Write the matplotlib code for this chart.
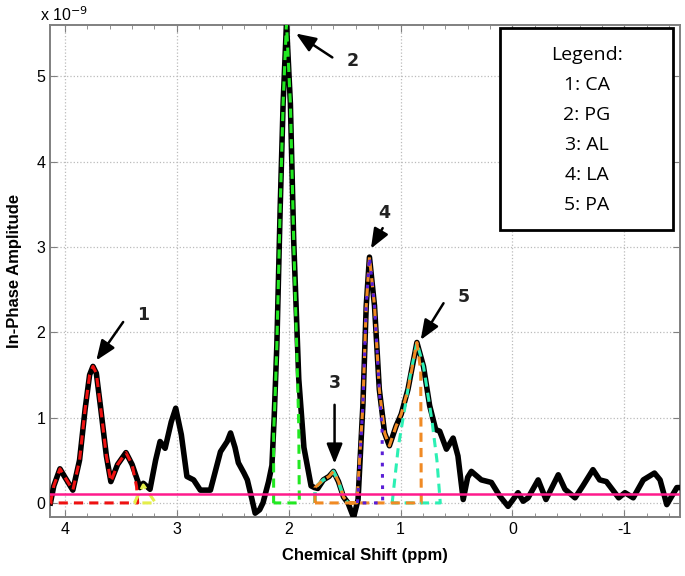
import matplotlib
matplotlib.use("Agg")
import matplotlib.pyplot as plt
from matplotlib.ticker import MultipleLocator
from matplotlib.patches import Rectangle

plt.rcParams["axes.unicode_minus"] = False

# measured spectrum (ppm, amplitude in units of 1e-9)
ppm = [4.13, 4.10, 4.045, 4.00, 3.93, 3.87, 3.82, 3.78, 3.75, 3.72, 3.68, 3.63, 3.59,
       3.53, 3.455, 3.40, 3.33, 3.30, 3.24, 3.19, 3.15, 3.105, 3.05, 3.01, 2.96, 2.91,
       2.85, 2.79, 2.70, 2.65, 2.61, 2.55, 2.52, 2.48, 2.45, 2.40, 2.37, 2.33, 2.30,
       2.26, 2.23, 2.18, 2.15, 2.13, 2.106, 2.076, 2.05, 2.02, 1.985, 1.955, 1.91,
       1.864, 1.80, 1.77, 1.74, 1.69, 1.64, 1.60, 1.555, 1.51, 1.47, 1.42, 1.38,
       1.337, 1.307, 1.278, 1.233, 1.19, 1.143, 1.10, 1.04, 0.994, 0.934, 0.854, 0.795,
       0.74, 0.686, 0.65, 0.59, 0.53, 0.487, 0.44, 0.40, 0.367, 0.278, 0.188, 0.113,
       0.039, -0.05, -0.096, -0.14, -0.23, -0.30, -0.41, -0.47, -0.56, -0.63, -0.72,
       -0.78, -0.84, -0.95, -1.006, -1.08, -1.17, -1.27, -1.32, -1.38, -1.47, -1.50]
amp = [0.0, 0.2, 0.40, 0.30, 0.15, 0.5, 1.1, 1.50, 1.60, 1.52, 1.1, 0.55, 0.25,
       0.45, 0.59, 0.45, 0.18, 0.23, 0.16, 0.5, 0.72, 0.64, 0.95, 1.11, 0.8, 0.31,
       0.27, 0.15, 0.15, 0.4, 0.60, 0.72, 0.82, 0.65, 0.47, 0.35, 0.27, 0.05, -0.12,
       -0.08, 0.0, 0.25, 0.44, 1.0, 1.85, 3.47, 4.68, 5.62, 4.68, 3.06, 1.45,
       0.65, 0.20, 0.18, 0.17, 0.27, 0.31, 0.37, 0.25, 0.07, 0.0, -0.17, 0.04,
       1.14, 2.31, 2.88, 2.31, 1.33, 0.82, 0.67, 0.90, 1.04, 1.33, 1.88, 1.60,
       1.14, 0.86, 0.84, 0.63, 0.76, 0.55, 0.04, 0.30, 0.37, 0.27, 0.24, 0.08,
       -0.04, 0.12, 0.02, 0.06, 0.27, 0.04, 0.33, 0.16, 0.06, 0.20, 0.39,
       0.27, 0.25, 0.06, 0.12, 0.06, 0.27, 0.35, 0.27, -0.02, 0.18, 0.18]

# fitted components
ca_x = [4.13, 4.10, 4.045, 4.00, 3.93, 3.87, 3.82, 3.78, 3.75, 3.72, 3.68, 3.63, 3.59,
        3.53, 3.455, 3.40, 3.36, 3.35, 4.13]
ca_y = [0.0, 0.2, 0.40, 0.30, 0.15, 0.5, 1.1, 1.50, 1.60, 1.52, 1.1, 0.55, 0.25,
        0.45, 0.59, 0.45, 0.19, 0.0, 0.0]
ca2_x = [3.38, 3.30, 3.19, 3.38]
ca2_y = [0.0, 0.21, 0.0, 0.0]
pg_x = [2.135, 2.135, 2.12, 2.106, 2.076, 2.05, 2.02, 1.985, 1.955, 1.93, 1.91, 1.905, 2.135]
pg_y = [0.0, 0.8, 1.3, 1.85, 3.47, 4.68, 5.62, 4.68, 3.06, 1.9, 0.9, 0.0, 0.0]
al_x = [1.765, 1.765, 1.69, 1.64, 1.60, 1.555, 1.51, 1.47]
al_y = [0.0, 0.18, 0.27, 0.31, 0.37, 0.25, 0.07, 0.0]
la_x = [1.385, 1.337, 1.307, 1.278, 1.233, 1.19, 1.165, 1.16, 1.385]
la_y = [0.0, 1.14, 2.31, 2.88, 2.31, 1.33, 0.85, 0.0, 0.0]
pa_x = [1.075, 1.02, 0.97, 0.91, 0.854, 0.795, 0.72, 0.675, 0.645, 1.075]
pa_y = [0.0, 0.66, 1.05, 1.52, 1.88, 1.60, 0.97, 0.50, 0.0, 0.0]
sum_x = [1.765, 1.765, 1.69, 1.64, 1.60, 1.555, 1.51, 1.47, 1.39, 1.337, 1.307, 1.278,
         1.233, 1.19, 1.143, 1.10, 1.04, 0.994, 0.934, 0.854, 0.82, 0.815, 1.765]
sum_y = [0.0, 0.18, 0.27, 0.31, 0.37, 0.25, 0.07, 0.0, 0.0, 1.14, 2.31, 2.88,
         2.31, 1.33, 0.82, 0.67, 0.90, 1.04, 1.33, 1.88, 1.55, 0.0, 0.0]
baseline = 0.1

# peak labels: text position, arrow tail, arrow head
labels = ["1", "2", "3", "4", "5"]
text_pos = [(3.30, 2.20), (1.43, 5.18), (1.59, 1.41), (1.15, 3.40), (0.437, 2.41)]
tails = [(3.48, 2.12), (1.61, 5.22), (1.59, 1.15), (1.16, 3.22), (0.616, 2.34)]
heads = [(3.72, 1.67), (1.935, 5.50), (1.59, 0.46), (1.265, 2.98), (0.82, 1.91)]

legend_lines = ["Legend:", "1: CA", "2: PG", "3: AL", "4: LA", "5: PA"]

fig = plt.figure(figsize=(6.85, 5.76), dpi=100)
ax = fig.add_axes([0.073, 0.1024, 0.92, 0.8542])

ax.plot(ppm, amp, color="black", lw=4, solid_joinstyle="round", zorder=3)
ax.axhline(baseline, color="#ff1a8c", lw=1.8, zorder=6)
ax.plot(ca_x, ca_y, color="#ee1111", lw=2.2, ls=(0, (3, 2)), zorder=4)
ax.plot(ca2_x, ca2_y, color="#e4ee4a", lw=2.2, ls=(0, (3, 2)), zorder=4)
ax.plot(pg_x, pg_y, color="#22e822", lw=2.2, ls=(0, (3, 2)), zorder=4)
ax.plot(al_x, al_y, color="#33e6b0", lw=2.6, ls=(0, (3, 2)), zorder=4)
ax.plot(pa_x, pa_y, color="#2cf0b4", lw=2.2, ls=(0, (3, 2)), zorder=4)
ax.plot(sum_x, sum_y, color="#f08a24", lw=2.2, ls=(0, (3, 2)), zorder=5)
ax.plot(la_x, la_y, color="#5a1fd6", lw=2.2, ls=(0, (1.2, 2.5)), zorder=5)

for lab, tp, tl, hd in zip(labels, text_pos, tails, heads):
    ax.annotate("", xy=hd, xytext=tl,
                arrowprops=dict(arrowstyle="-|>,head_length=0.6,head_width=0.24",
                                color="black", lw=1.8, mutation_scale=20,
                                shrinkA=0, shrinkB=0), zorder=7)
    ax.text(tp[0], tp[1], lab, fontsize=12.5, fontweight="bold", family="DejaVu Sans",
            color="#222222", ha="center", va="center", zorder=7)

ax.set_xlim(4.134, -1.5)
ax.set_ylim(-0.165, 5.6)
ax.xaxis.set_major_locator(MultipleLocator(1))
ax.xaxis.set_minor_locator(MultipleLocator(0.2))
ax.yaxis.set_major_locator(MultipleLocator(1))
ax.grid(True, which="major", ls=":", color="#bbbbbb", lw=0.9)
ax.tick_params(which="both", direction="in", top=True, right=True, color="#808080")
ax.tick_params(which="major", length=5, labelsize=11.5)
ax.tick_params(which="minor", length=3)
for lbl in ax.get_xticklabels() + ax.get_yticklabels():
    lbl.set_family("Liberation Sans")
for s in ax.spines.values():
    s.set_color("#808080")
    s.set_linewidth(1.4)

ax.set_xlabel("Chemical Shift (ppm)", fontsize=12, fontweight="bold",
              family="Liberation Sans", labelpad=8)
ax.set_ylabel("In-Phase Amplitude", fontsize=12, fontweight="bold",
              family="Liberation Sans", labelpad=10)
fig.text(0.094, 0.975, "x 10$^{-9}$", fontsize=11.5, family="Liberation Sans",
         ha="center", va="center")

# legend box (figure pixels -> fraction)
W, H = 685, 576
fig.patches.append(Rectangle((500 / W, 1 - 230 / H), 173 / W, 202 / H,
                             transform=fig.transFigure, fc="white", ec="black",
                             lw=2, zorder=8))
for i, line in enumerate(legend_lines):
    fig.text(587 / W, 1 - (55 + 30 * i) / H, line, fontsize=14, family="Open Sans",
             ha="center", va="center", zorder=9)

fig.savefig("out.png", dpi=100)
